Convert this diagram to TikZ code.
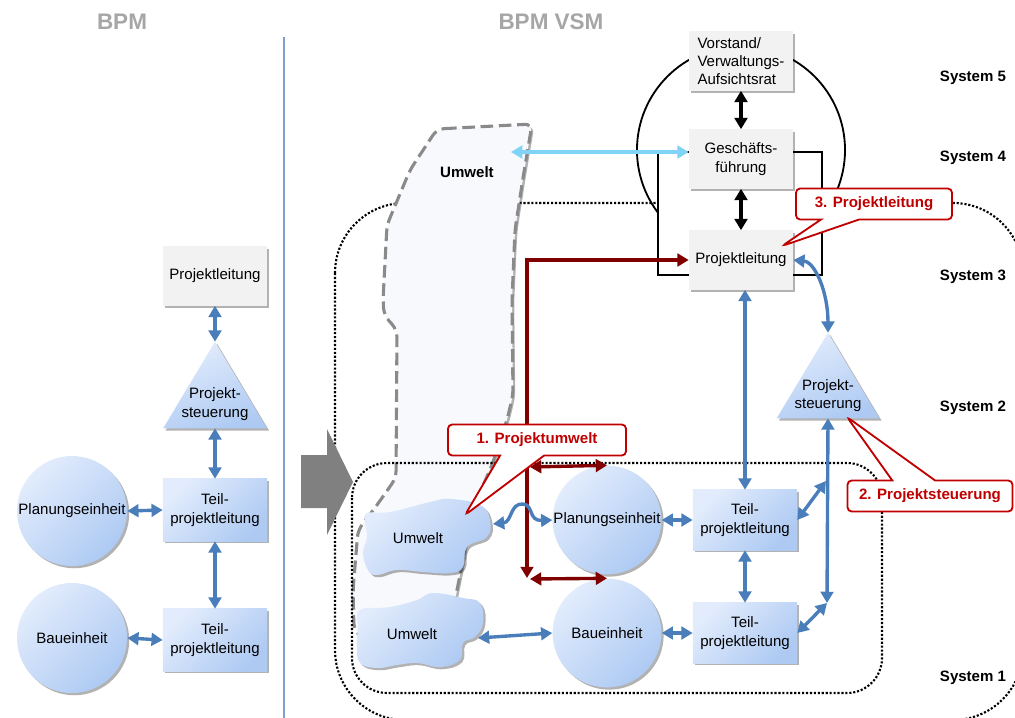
\documentclass[tikz,border=0pt]{standalone}
\usepackage{fontspec}
\setmainfont{Liberation Sans}
\usetikzlibrary{arrows.meta,shapes.callouts,shadows}
\definecolor{boxgray}{HTML}{F2F2F2}
\definecolor{bluelt}{HTML}{E2ECFC}
\definecolor{bluedk}{HTML}{AECAF3}
\definecolor{arrblue}{HTML}{4A7EBB}
\definecolor{arrred}{HTML}{800000}
\definecolor{callred}{HTML}{C00000}
\definecolor{arrcyan}{HTML}{80D3F6}
\definecolor{titlegray}{HTML}{A6A6A6}
\definecolor{sepblue}{HTML}{7F9FD0}
\definecolor{envfill}{HTML}{F8F9FC}
\definecolor{envline}{HTML}{8A8A8A}
\newcommand{\nodefont}{\fontsize{10.7}{13}\selectfont}
\tikzset{
  every node/.style={font=\nodefont, align=center},
  myshadow/.style={drop shadow={shadow xshift=1.6pt, shadow yshift=-1.6pt, opacity=0.3, fill=black}},
  graybox/.style={rectangle, fill=boxgray, minimum width=2.6cm, minimum height=1.475cm, myshadow},
  bluebox/.style={rectangle, top color=bluelt, bottom color=bluedk, shading angle=45, minimum width=2.6cm, minimum height=1.5cm, myshadow},
  unit/.style={circle, inner sep=0pt, minimum size=2.72cm, top color=bluelt, bottom color=bluedk, shading angle=45, myshadow},
  tribox/.style={rectangle, inner sep=0pt, minimum width=2.575cm, minimum height=2.15cm},
  trifill/.style={top color=bluelt, bottom color=bluedk, shading angle=20, myshadow},
  cloudfill/.style={top color=bluelt, bottom color=bluedk, shading angle=45, myshadow},
  twoway/.style={<->, >={Triangle[length=8pt,width=9pt]}, line width=2.4pt},
  bluearr/.style={twoway, draw=arrblue},
  blackarr/.style={twoway, draw=black},
  redarr/.style={twoway, draw=arrred},
  cyanarr/.style={twoway, draw=arrcyan},
  callbox/.style={rectangle callout, draw=callred, fill=white, line width=1.3pt, rounded corners=3pt, text=callred, font=\nodefont\bfseries, minimum height=0.775cm},
  dotline/.style={line width=1.5pt, dash pattern=on 1.5pt off 1.3pt},
  title/.style={font=\fontsize{16}{19}\selectfont\bfseries, text=titlegray},
  syslabel/.style={font=\nodefont\bfseries}
}
\begin{document}
\begin{tikzpicture}[x=0.025cm, y=-0.025cm]
  \useasboundingbox (0,0) rectangle (1015,718);
  %Titles
  \node[title] (t1) at (122,22) {BPM};
  \node[title] (t2) at (551,22) {BPM VSM};
  %Separator
  \draw[sepblue, line width=1.4pt] (284,37) -- (284,718);
  %System levels
  \foreach \n/\y in {5/78,4/158,3/277,2/408,1/678}
    \node[syslabel] (sys\n) at (973,\y) {System \n};
  %Outer border (dotted)
  \draw[dotline, rounded corners=1.75cm] (335,203) rectangle (1023,720);
  %Circle and frame System 4/5
  \draw[line width=1.3pt] (741,150) circle (2.6cm);
  \draw[line width=1.6pt, fill=white] (658,152) rectangle (822,275);
  %Environment (dashed)
  \draw[fill=envfill, draw=envline, line width=2.2pt, dash pattern=on 9pt off 4pt, rounded corners=5pt, myshadow]
    (437,129) -- (532,124) -- (523,178) -- (515,230) -- (512,300) -- (513,395) -- (507,420)
    -- (492,465) -- (470,515) -- (463,560) -- (455,600) -- (445,640) -- (380,655) -- (354,630)
    -- (353,590) -- (358,530) -- (377,505) -- (396,478) -- (397,330) -- (384,315) -- (383,300)
    -- (387,225) -- (410,170) -- cycle;
  \node[font=\nodefont\bfseries] (uwtxt) at (467,172) {Umwelt};
  \coordinate (uwr) at (511,152);
  %Inner border (dotted)
  \draw[dotline, rounded corners=0.875cm] (352,463) rectangle (882,693);
  %Big arrow
  \fill[black!50] (301,455) -- (327,455) -- (327,429) -- (353,482) -- (327,535) -- (327,508) -- (301,508) -- cycle;

  %BPM
  \node[graybox] (pl1) at (215,276) {Projektleitung};
  \node[tribox] (ps1) at (215,385) {};
  \path[trifill] (ps1.north) -- (ps1.south east) -- (ps1.south west) -- cycle;
  \node (ps1t) at ([yshift=-0.48cm]ps1.center) {Projekt-\\steuerung};
  \node[bluebox, minimum height=1.55cm] (tpl1l) at (215,510) {Teil-\\projektleitung};
  \node[bluebox, minimum height=1.55cm] (tpl2l) at (215,640) {Teil-\\projektleitung};
  \node[unit, minimum size=2.75cm] (pe1) at (72,511) {Planungseinheit};
  \node[unit, minimum size=2.75cm] (be1) at (72,638) {Baueinheit};
  \draw[bluearr] (pl1.south) -- (ps1.north);
  \draw[bluearr] (ps1.south) -- (tpl1l.north);
  \draw[bluearr] (tpl1l.south) -- (tpl2l.north);
  \draw[bluearr] (pe1.east) -- (tpl1l.west);
  \draw[bluearr] (be1.east) -- (tpl2l.west);

  %BPM VSM
  \node[graybox, align=left] (vs) at (741,61) {Vorstand/\\Verwaltungs-\\Aufsichtsrat};
  \node[graybox] (gf) at (741,159) {Geschäfts-\\führung};
  \node[graybox] (pl) at (741,260) {Projektleitung};
  \node[tribox, minimum width=2.55cm, minimum height=2.125cm] (ps) at (828,375.5) {};
  \path[trifill] (ps.north) -- (ps.south east) -- (ps.south west) -- cycle;
  \node (pst) at ([yshift=-0.5cm]ps.center) {Projekt-\\steuerung};
  \node[bluebox] (tpl1) at (745,520) {Teil-\\projektleitung};
  \node[bluebox] (tpl2) at (745,633) {Teil-\\projektleitung};
  \node[unit] (pe) at (607,520) {Planungseinheit};
  \node[unit] (be) at (607,633) {Baueinheit};
  %Environment clouds
  \path[cloudfill] plot[smooth cycle, tension=0.7] coordinates {(367,513) (390,512) (430,502) (450,499)
    (480,505) (490,520) (487,537) (467,547) (463,567) (450,573) (423,572) (397,570) (377,575)
    (368,570) (363,553) (367,537) (365,523)};
  \node (uw1) at (418,538) {Umwelt};
  \coordinate (uw1r) at (493,524);
  \path[cloudfill] plot[smooth cycle, tension=0.7] coordinates {(360,610) (390,607) (417,600) (433,593)
    (463,598) (480,603) (483,623) (475,637) (463,643) (460,660) (440,667) (417,663) (397,665)
    (377,668) (360,663) (357,647) (358,627)};
  \node (uw2) at (412,634) {Umwelt};
  \coordinate (uw2r) at (478,638);

  %Connectors
  \coordinate (redbot) at (527,578);
  \coordinate (r1) at (530,467);
  \coordinate (r2) at (530,579);
  \coordinate (j1) at (826,481);
  \coordinate (j2) at (827,603);
  \draw[blackarr] (vs.south) -- (gf.north);
  \draw[blackarr] (gf.south) -- (pl.north);
  \draw[cyanarr] (uwr) -- (uwr -| gf.west);
  \draw[redarr] (redbot) |- (pl.west);
  \draw[redarr] (r1) -- (pe.north);
  \draw[redarr] (r2) -- (be.north);
  \draw[bluearr] (tpl1.north |- pl.south) -- (tpl1.north);
  \draw[bluearr] (pl.east) .. controls (815,262) and (828,292) .. (ps.north);
  \draw[bluearr] (ps.south) -- (j2);
  \draw[bluearr] (tpl1.east) -- (j1);
  \draw[bluearr] (tpl2.east) -- (j2);
  \draw[bluearr] (tpl1.south) -- (tpl2.north);
  \draw[bluearr] (pe.east) -- (tpl1.west);
  \draw[bluearr] (be.east) -- (tpl2.west);
  \draw[bluearr] (uw1r) .. controls (512,522) and (510,503) .. (523,504) .. controls (534,505) and (528,521) .. (pe.west);
  \draw[bluearr] (uw2r) -- (be.west);

  %Callouts
  \coordinate (tip1) at (465,515);
  \coordinate (tip2) at (847,417);
  \coordinate (tip3) at (782,246);
  \node[callbox, minimum width=4.45cm, callout pointer width=1.1cm, callout absolute pointer={(tip1)}] (cl1) at (537,440) {1. Projektumwelt};
  \node[callbox, minimum width=4.125cm, callout pointer width=1.07cm, callout absolute pointer={(tip2)}] (cl2) at (930,496) {2. Projektsteuerung};
  \node[callbox, minimum width=3.9cm, callout pointer width=0.95cm, callout absolute pointer={(tip3)}] (cl3) at (874,204) {3. Projektleitung};
\end{tikzpicture}
\end{document}
